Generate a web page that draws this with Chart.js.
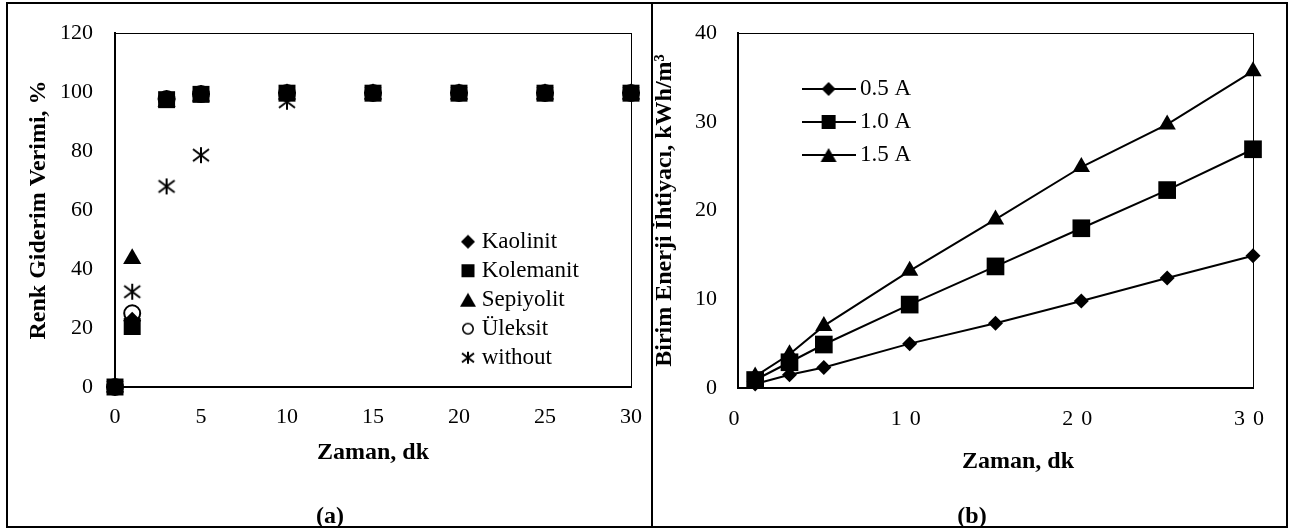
<!DOCTYPE html>
<html>
<head>
<meta charset="utf-8">
<script src="https://cdn.jsdelivr.net/npm/chart.js@4.4.0/dist/chart.umd.min.js"></script>
<style>
  html, body { margin: 0; padding: 0; background: #fff; }
  body { width: 1289px; height: 529px; position: relative; overflow: hidden; font-family: "Liberation Serif", "Times New Roman", serif; }
  #frame { position: absolute; left: 6px; top: 2px; width: 1282px; height: 526px; box-sizing: border-box; border: 2px solid #000; }
  #divider { position: absolute; left: 651px; top: 2px; width: 2px; height: 526px; background: #000; }
  .box { position: absolute; top: 4px; height: 522px; }
  #boxA { left: 8px; width: 643px; }
  #boxB { left: 653px; width: 633px; }
  .lbl { position: absolute; font-weight: bold; font-size: 24px; line-height: 24px; transform: translate(-50%, -50%); white-space: nowrap; color: #000; }
</style>
</head>
<body>
<div id="frame"></div>
<div id="divider"></div>
<div class="box" id="boxA"><canvas id="chartA" width="643" height="522"></canvas></div>
<div class="box" id="boxB"><canvas id="chartB" width="633" height="522"></canvas></div>
<div class="lbl" style="left:330px;top:515px;">(a)</div>
<div class="lbl" style="left:972px;top:515px;">(b)</div>
<div class="lbl" style="left:1018px;top:460px;">Zaman, dk</div>

<script>
/* ================== DATA (a) ================== */
const timeA = [0, 1, 3, 5, 10, 15, 20, 25, 30];
const kaolinit  = [0, 22.5, 97.6, 99.3, 99.8, 99.8, 99.8, 99.8, 99.8];
const kolemanit = [0, 20.5, 97.4, 99.2, 99.6, 99.6, 99.6, 99.6, 99.6];
const sepiyolit = [0, 43.5, 96.8, 98.6, 99.2, 99.2, 99.2, 99.2, 99.2];
const uleksit   = [0, 25, 97.6, 99.3, 99.7, 99.7, 99.7, 99.7, 99.7];
const without   = [0, 32.3, 68, 78.6, 96.7, 99.6, 99.6, 99.6, 99.6];
const xTicksA = [0, 5, 10, 15, 20, 25, 30];
const yTicksA = [0, 20, 40, 60, 80, 100, 120];

/* ================== DATA (b) ================== */
const timeB = [1, 3, 5, 10, 15, 20, 25, 30];
const amp05 = [0.45, 1.5, 2.3, 5.0, 7.3, 9.8, 12.4, 14.9];
const amp10 = [0.9, 2.9, 4.9, 9.4, 13.7, 18.0, 22.3, 26.9];
const amp15 = [1.3, 3.8, 7.0, 13.2, 19.0, 24.9, 29.7, 35.7];
const xTicksB = [0, 10, 20, 30];
const yTicksB = [0, 10, 20, 30, 40];

const SERIF = "'Liberation Serif', 'Times New Roman', serif";

/* ================== MARKER GLYPHS ================== */
function makeGlyph(shape, size, lineLen) {
  const w = Math.max(lineLen || 0, size + 4), h = size + 4;
  const c = document.createElement("canvas");
  c.width = w; c.height = h;
  const g = c.getContext("2d");
  const cx = w / 2, cy = h / 2, r = size / 2;
  g.fillStyle = "#000";
  g.strokeStyle = "#000";
  if (lineLen) {
    g.lineWidth = 2;
    g.beginPath(); g.moveTo(0, cy); g.lineTo(w, cy); g.stroke();
  }
  g.beginPath();
  if (shape === "diamond") {
    g.moveTo(cx, cy - r); g.lineTo(cx + r, cy); g.lineTo(cx, cy + r); g.lineTo(cx - r, cy);
    g.closePath(); g.fill();
  } else if (shape === "square") {
    g.fillRect(cx - r, cy - r, size, size);
  } else if (shape === "triangle") {
    const th = size * 0.87;
    g.moveTo(cx, cy - th / 2); g.lineTo(cx + r, cy + th / 2); g.lineTo(cx - r, cy + th / 2);
    g.closePath(); g.fill();
  } else if (shape === "circle") {
    g.lineWidth = 1.6;
    g.arc(cx, cy, r - 0.8, 0, Math.PI * 2); g.stroke();
  } else if (shape === "asterisk") {
    g.lineWidth = 2;
    g.moveTo(cx, cy - r); g.lineTo(cx, cy + r);
    g.moveTo(cx - r, cy - r * 0.75); g.lineTo(cx + r, cy + r * 0.75);
    g.moveTo(cx + r, cy - r * 0.75); g.lineTo(cx - r, cy + r * 0.75);
    g.stroke();
  }
  return c;
}

const asteriskPoint = makeGlyph("asterisk", 16);
const legendGlyphsA = [
  makeGlyph("diamond", 14), makeGlyph("square", 13), makeGlyph("triangle", 16),
  makeGlyph("circle", 12), makeGlyph("asterisk", 12)
];
const legendGlyphsB = [
  makeGlyph("diamond", 14, 54), makeGlyph("square", 14, 54), makeGlyph("triangle", 16, 54)
];

/* ================== PLUGINS ================== */
const plotBorder = {
  id: "plotBorder",
  beforeDatasetsDraw(chart) {
    const { ctx, chartArea: a } = chart;
    ctx.save();
    ctx.strokeStyle = "#000";
    ctx.lineWidth = 1;
    ctx.strokeRect(a.left + 0.5, a.top + 0.5, a.width, a.height);
    ctx.restore();
  }
};

const placeLegend = {
  id: "placeLegend",
  afterLayout(chart, args, opts) {
    const lg = chart.legend;
    lg.left = opts.left;
    lg.top = opts.top;
    lg.right = opts.left + lg.width;
    lg.bottom = opts.top + 300;
  }
};

const spacedTicks = {
  id: "spacedTicks",
  beforeDraw(chart) {
    const s = chart.scales.x;
    if (s._spaced) return;
    const draw = s.drawLabels;
    s.drawLabels = function (area) {
      const c = this.ctx;
      c.save();
      c.letterSpacing = "8px";
      draw.call(this, area);
      c.restore();
    };
    s._spaced = true;
  }
};

/* ================== HELPERS ================== */
function points(xs, ys) {
  return xs.map((x, i) => ({ x: x, y: ys[i] }));
}

function legendFrom(glyphs) {
  return chart => chart.data.datasets.map((d, i) => ({
    text: d.label,
    pointStyle: glyphs[i],
    fillStyle: "#000",
    strokeStyle: "#000",
    lineWidth: 0,
    hidden: false,
    datasetIndex: i
  }));
}

function axis(ticks, size, pad, afterFit, title) {
  return {
    type: "linear",
    min: ticks[0],
    max: ticks[ticks.length - 1],
    afterBuildTicks: s => { s.ticks = ticks.map(v => ({ value: v })); },
    afterFit: afterFit,
    grid: { display: false, drawTicks: false },
    border: { display: true, color: "#000", width: 2 },
    ticks: { color: "#000", padding: pad, autoSkip: false, maxRotation: 0, font: { family: SERIF, size: size, lineHeight: 1 } },
    title: title
  };
}

function fixWidth(w) {
  return s => { s.width = w; s.paddingTop = 0; s.paddingBottom = 0; };
}
function fixHeight(h) {
  return s => { s.height = h; s.paddingLeft = 0; s.paddingRight = 0; };
}

function markerSet(label, ys, style, radius, hollow) {
  return {
    label: label,
    data: points(timeA, ys),
    pointStyle: style,
    pointRadius: radius,
    pointHoverRadius: radius,
    backgroundColor: hollow ? "rgba(0,0,0,0)" : "#000",
    borderColor: "#000",
    pointBorderWidth: hollow ? 2 : 0,
    showLine: false,
    clip: false
  };
}

function lineSet(label, ys, style, radius) {
  return {
    label: label,
    data: points(timeB, ys),
    pointStyle: style,
    pointRadius: radius,
    pointHoverRadius: radius,
    backgroundColor: "#000",
    borderColor: "#000",
    borderWidth: 2,
    pointBorderWidth: 0,
    showLine: true,
    clip: false
  };
}

/* ================== CHART (a) ================== */
new Chart(document.getElementById("chartA"), {
  type: "scatter",
  data: {
    datasets: [
      markerSet("Kaolinit", kaolinit, "rectRot", 9),
      markerSet("Kolemanit", kolemanit, "rect", 12),
      markerSet("Sepiyolit", sepiyolit, "triangle", 10.5),
      markerSet("Üleksit", uleksit, "circle", 8, true),
      markerSet("without", without, asteriskPoint, 8)
    ]
  },
  options: {
    responsive: false,
    animation: false,
    layout: { padding: { top: 29, right: 20, left: 0, bottom: 61 } },
    plugins: {
      tooltip: { enabled: false },
      legend: {
        position: "chartArea",
        align: "start",
        labels: {
          usePointStyle: true,
          pointStyleWidth: 4.4,
          padding: 6,
          color: "#000",
          font: { family: SERIF, size: 23 },
          generateLabels: legendFrom(legendGlyphsA)
        }
      },
      placeLegend: { left: 451.8, top: 220.2 }
    },
    scales: {
      x: axis(xTicksA, 22, 19, fixHeight(78), {
        display: true, text: "Zaman, dk", color: "#000", padding: 0,
        font: { family: SERIF, size: 24, weight: "bold", lineHeight: 1 }
      }),
      y: axis(yTicksA, 22, 22, fixWidth(107), {
        display: true, text: "Renk Giderim Verimi, %", color: "#000", padding: { top: 19, bottom: 0 },
        font: { family: SERIF, size: 24, weight: "bold", lineHeight: 1 }
      })
    }
  },
  plugins: [plotBorder, placeLegend]
});

/* ================== CHART (b) ================== */
new Chart(document.getElementById("chartB"), {
  type: "scatter",
  data: {
    datasets: [
      lineSet("0.5 A", amp05, "rectRot", 7.5),
      lineSet("1.0 A", amp10, "rect", 12.5),
      lineSet("1.5 A", amp15, "triangle", 10)
    ]
  },
  options: {
    responsive: false,
    animation: false,
    layout: { padding: { top: 29, right: 33, left: 0, bottom: 58 } },
    plugins: {
      tooltip: { enabled: false },
      legend: {
        position: "chartArea",
        align: "start",
        labels: {
          usePointStyle: true,
          pointStyleWidth: 39.8,
          padding: 10,
          color: "#000",
          font: { family: SERIF, size: 23 },
          generateLabels: legendFrom(legendGlyphsB)
        }
      },
      placeLegend: { left: 145.7, top: 63.5 }
    },
    scales: {
      x: axis(xTicksB, 22, 20, fixHeight(80), { display: false }),
      y: axis(yTicksB, 22, 21, fixWidth(85), {
        display: true, text: "Birim Enerji İhtiyacı, kWh/m³", color: "#000", padding: { top: 0, bottom: 0 },
        font: { family: SERIF, size: 24, weight: "bold", lineHeight: 1 }
      })
    }
  },
  plugins: [plotBorder, placeLegend, spacedTicks]
});
</script>
</body>
</html>
